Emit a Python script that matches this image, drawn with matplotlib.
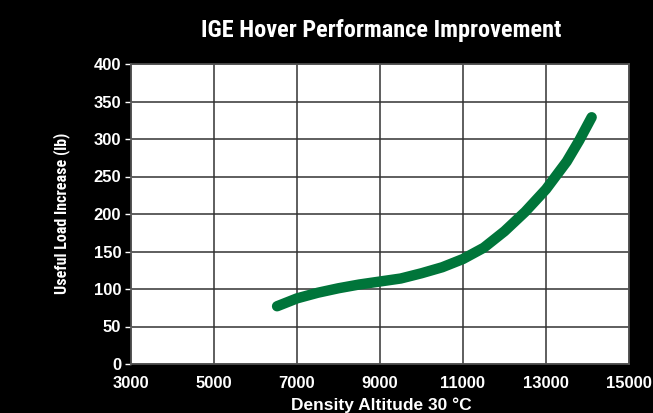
import matplotlib.pyplot as plt
from matplotlib import font_manager

# density altitude (ft) vs useful load increase (lb)
alt = [6520, 7000, 7500, 8000, 8500, 9000, 9500, 10000, 10500, 11000,
       11500, 12000, 12500, 13000, 13500, 13800, 14100]
load = [77, 87.5, 95, 101, 106, 110, 114, 121, 129, 140,
        155, 177, 203, 233, 270, 298, 329]

xticks = [3000, 5000, 7000, 9000, 11000, 13000, 15000]
yticks = [0, 50, 100, 150, 200, 250, 300, 350, 400]

names = [f.name for f in font_manager.fontManager.ttflist]
narrow = 'Liberation Sans Narrow' if 'Liberation Sans Narrow' in names else 'Roboto Condensed'
if narrow not in names:
    narrow = 'DejaVu Sans'

fig = plt.figure(figsize=(6.53, 4.13), dpi=100, facecolor='black')
ax = fig.add_axes([131 / 653, 1 - 364 / 413, (629 - 131) / 653, (364 - 64) / 413])
ax.set_facecolor('white')

ax.plot(alt, load, color='#00753a', lw=7.5, solid_capstyle='round', zorder=3)

ax.set_xlim(3000, 15000)
ax.set_ylim(0, 400)
ax.set_xticks(xticks)
ax.set_yticks(yticks)
ax.grid(True, color='#333333', lw=1.1)
for s in ax.spines.values():
    s.set_color('#555555')
    s.set_linewidth(1.2)

ax.tick_params(axis='y', colors='white', length=4, width=1, pad=3, labelsize=12)
ax.tick_params(axis='x', colors='white', length=0, pad=9, labelsize=12)
for lab in ax.get_xticklabels() + ax.get_yticklabels():
    lab.set_fontweight('bold')
    lab.set_family('Liberation Sans')

fig.text(381 / 653, 1 - 30 / 413, 'IGE Hover Performance Improvement', color='white',
         ha='center', va='center', fontsize=17.5, fontweight='bold', family=narrow)
fig.text(381 / 653, 1 - 405 / 413, 'Density Altitude 30 °C', color='white',
         ha='center', va='center', fontsize=12.5, fontweight='bold', family='Liberation Sans')
fig.text(62 / 653, 1 - 213 / 413, 'Useful Load Increase (lb)', color='white', rotation=90,
         ha='center', va='center', fontsize=11.5, fontweight='bold', family=narrow)

fig.savefig('out.png', dpi=100, facecolor='black')
